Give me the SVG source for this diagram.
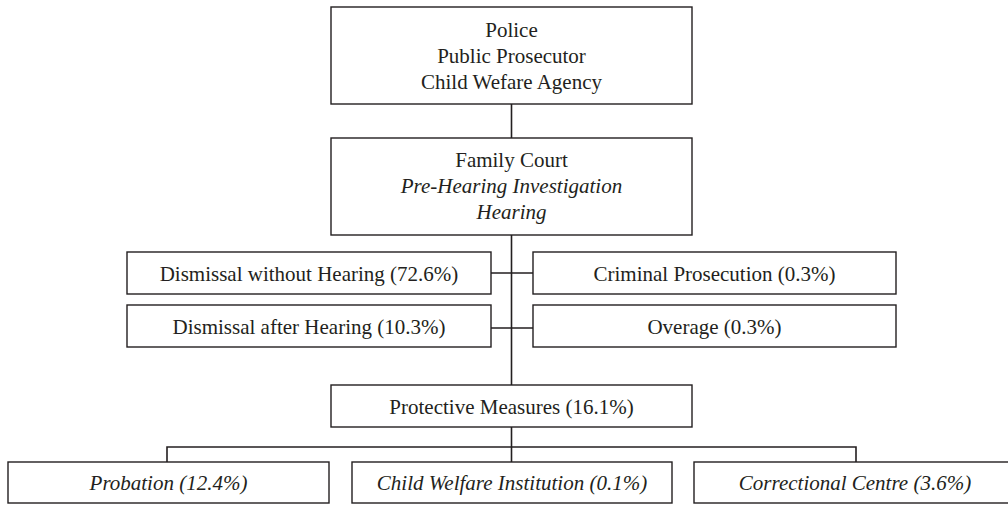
<svg xmlns="http://www.w3.org/2000/svg" width="1008" height="505" viewBox="0 0 1008 505">
<style>
.box{fill:#fff;stroke:#231f20;stroke-width:1.4}
.ln{stroke:#231f20;stroke-width:1.6;fill:none}
.t{font-family:'Liberation Serif','Times New Roman',Times,'DejaVu Serif',serif;font-size:21px;fill:#231f20;text-anchor:middle}
.it{font-style:italic}
</style>
<rect width="1008" height="505" fill="#fff"/>
<g id="connectors">
<path class="ln" d="M511.5 104V138M511.5 235V385M511.5 427V462M491 273H533M491 328H533M167 462V447H856V462"/>
</g>
<g class="t" font-family="Liberation Serif, Times New Roman, serif">
<g id="n-agencies">
<rect class="box" x="331" y="7" width="361" height="97"/>
<text x="511.5" y="37">Police</text>
<text x="511.5" y="63">Public Prosecutor</text>
<text x="511.5" y="89">Child Wefare Agency</text>
</g>
<g id="n-family-court">
<rect class="box" x="331" y="138" width="361" height="97"/>
<text x="511.5" y="167">Family Court</text>
<text x="511.5" y="193" class="it">Pre-Hearing Investigation</text>
<text x="511.5" y="219" class="it">Hearing</text>
</g>
<g id="n-dismissal-without">
<rect class="box" x="127" y="252" width="364" height="42"/>
<text x="309" y="280.5">Dismissal without Hearing (72.6%)</text>
</g>
<g id="n-dismissal-after">
<rect class="box" x="127" y="305" width="364" height="42"/>
<text x="309" y="334">Dismissal after Hearing (10.3%)</text>
</g>
<g id="n-criminal">
<rect class="box" x="533" y="252" width="363" height="42"/>
<text x="714.5" y="280.5">Criminal Prosecution (0.3%)</text>
</g>
<g id="n-overage">
<rect class="box" x="533" y="305" width="363" height="42"/>
<text x="714.5" y="334">Overage (0.3%)</text>
</g>
<g id="n-protective">
<rect class="box" x="331" y="385" width="361" height="42"/>
<text x="511.5" y="413.5">Protective Measures (16.1%)</text>
</g>
<g id="n-probation">
<rect class="box" x="8" y="462" width="321" height="41"/>
<text x="168.5" y="490" class="it">Probation (12.4%)</text>
</g>
<g id="n-child-welfare">
<rect class="box" x="352" y="462" width="320" height="41"/>
<text x="512" y="490" class="it">Child Welfare Institution (0.1%)</text>
</g>
<g id="n-correctional">
<rect class="box" x="694" y="462" width="330" height="41"/>
<text x="855" y="490" class="it">Correctional Centre (3.6%)</text>
</g>
</g>
</svg>
